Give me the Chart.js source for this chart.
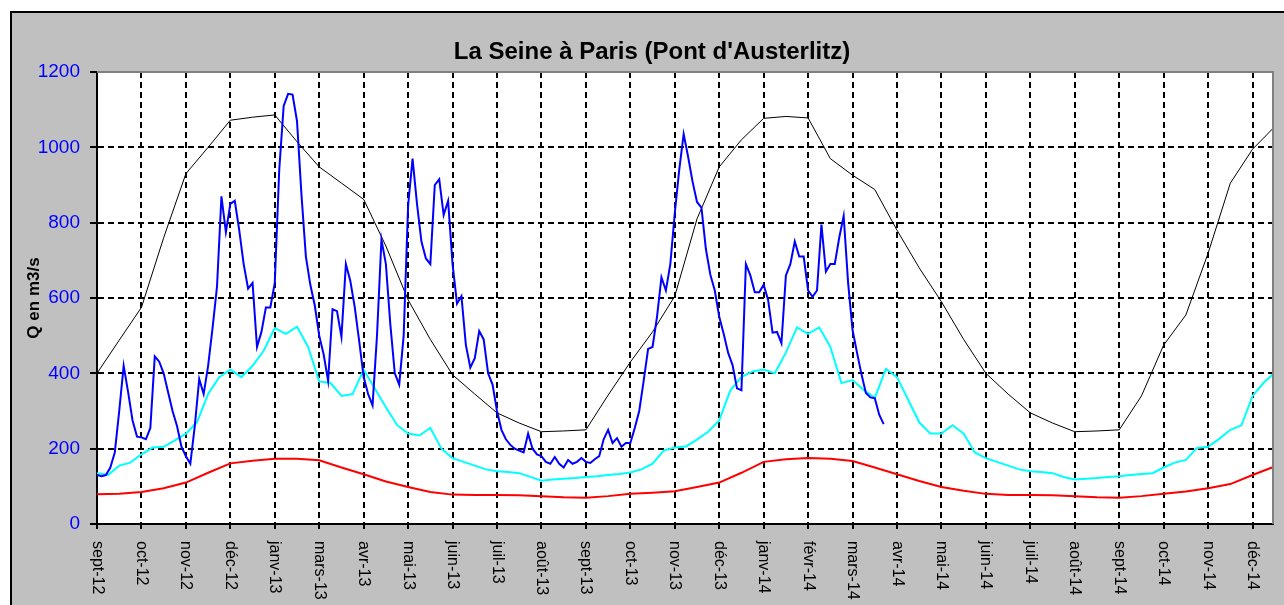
<!DOCTYPE html>
<html>
<head>
<meta charset="utf-8">
<script src="https://cdn.jsdelivr.net/npm/chart.js@4"></script>
<style>
html, body { margin: 0; padding: 0; background: #fff; overflow: hidden; }
#frame { position: absolute; left: 10px; top: 11px; width: 1300px; height: 620px; background: #c0c0c0; border-left: 2px solid #000; border-top: 2px solid #000; }
#wrap { position: absolute; left: 0; top: 0; width: 1284px; height: 605px; }
</style>
</head>
<body>
<div id="frame"></div>
<div id="wrap"><canvas id="chart" width="1284" height="605"></canvas></div>
<script>
// month ticks, one every step of 1 on the x axis
var tickLabels = ['sept-12', 'oct-12', 'nov-12', 'déc-12', 'janv-13', 'mars-13', 'avr-13', 'mai-13', 'juin-13',
    'juil-13', 'août-13', 'sept-13', 'oct-13', 'nov-13', 'déc-13', 'janv-14', 'févr-14', 'mars-14', 'avr-14',
    'mai-14', 'juin-14', 'juil-14', 'août-14', 'sept-14', 'oct-14', 'nov-14', 'déc-14'];

// observed flow (blue), one value every 0.1 tick
var debitStep = 0.1;
var debit = [130, 127, 130, 150, 190, 300, 420, 350, 275, 232,
    230, 225, 255, 445, 431, 400, 350, 300, 260, 205,
    180, 160, 260, 385, 345, 420, 520, 630, 870, 775,
    850, 858, 780, 690, 625, 640, 470, 510, 575, 575,
    640, 940, 1110, 1142, 1140, 1070, 875, 710, 635, 580,
    500, 450, 380, 570, 565, 497, 690, 645, 575, 485,
    390, 345, 315, 500, 755, 690, 530, 400, 370, 500,
    845, 970, 850, 750, 705, 690, 900, 915, 820, 858,
    690, 585, 605, 475, 415, 440, 512, 490, 400, 370,
    300, 250, 225, 210, 200, 195, 190, 240, 200, 185,
    180, 165, 160, 178, 160, 150, 170, 160, 165, 175,
    165, 162, 172, 180, 225, 250, 215, 228, 205, 215,
    215, 255, 300, 380, 465, 470, 550, 655, 620, 690,
    825, 940, 1035, 975, 909, 855, 840, 730, 662, 620,
    550, 505, 455, 422, 360, 355, 690, 660, 615, 615,
    635, 595, 508, 510, 480, 660, 690, 750, 710, 710,
    620, 603, 620, 795, 670, 690, 690, 760, 818, 640,
    515, 455, 398, 348, 336, 334, 290, 265];

// mean flow (cyan), every 0.25 tick
var moyenneStep = 0.25;
var moyenne = [135, 130, 155, 163, 185, 203, 205, 222, 240, 270,
    345, 390, 410, 390, 420, 460, 520, 505, 524, 470,
    378, 375, 340, 345, 410, 360, 310, 263, 240, 235,
    255, 200, 175, 165, 155, 145, 140, 138, 135, 125,
    115, 118, 120, 122, 125, 127, 130, 133, 137, 145,
    160, 195, 203, 206, 224, 245, 275, 355, 390, 405,
    410, 400, 455, 522, 505, 522, 470, 374, 382, 356,
    335, 412, 390, 330, 270, 240, 240, 262, 240, 190,
    175, 165, 155, 145, 140, 138, 135, 125, 118, 120,
    122, 125, 127, 130, 133, 135, 150, 163, 170, 202,
    205, 226, 250, 262, 340, 375, 402];

// high and low reference flows (black, red), every 0.5 tick
var refStep = 0.5;
var haut = [400, 488, 575, 760, 930, 1000, 1072, 1080, 1086, 1015,
    948, 905, 862, 738, 595, 490, 396, 345, 295, 268,
    245, 247, 250, 342, 430, 510, 605, 810, 948, 1020,
    1077, 1082, 1078, 970, 926, 888, 780, 680, 590, 490,
    400, 345, 295, 268, 245, 247, 250, 340, 475, 555,
    719, 905, 995, 1055];
var bas = [79, 80, 85, 95, 110, 136, 161, 168, 173, 173,
    169, 150, 132, 113, 98, 85, 78, 77, 77, 76,
    74, 71, 70, 74, 80, 83, 87, 98, 110, 136,
    165, 172, 175, 173, 167, 150, 132, 114, 98, 88,
    80, 77, 77, 76, 74, 71, 70, 74, 80, 86,
    95, 106, 130, 153];

var yTicks = [0, 200, 400, 600, 800, 1000, 1200];

function toPoints(values, step) {
    return values.map(function(v, i) { return { x: i * step, y: v }; });
}

function line(values, step, color, width) {
    return {
        data: toPoints(values, step),
        borderColor: color,
        borderWidth: width,
        pointRadius: 0,
        tension: 0,
        fill: false
    };
}

var plotFrame = {
    id: 'plotFrame',
    beforeDraw: function(chart) {
        var a = chart.chartArea;
        var ctx = chart.ctx;
        ctx.save();
        ctx.fillStyle = '#ffffff';
        ctx.fillRect(a.left, a.top, a.right - a.left, a.bottom - a.top);
        ctx.restore();
    },
    afterDraw: function(chart) {
        var a = chart.chartArea;
        var ctx = chart.ctx;
        var xs = chart.scales.x;
        ctx.save();
        // grey top and right edges of the plot area
        ctx.strokeStyle = '#808080';
        ctx.lineWidth = 2;
        ctx.beginPath();
        ctx.moveTo(a.left, a.top);
        ctx.lineTo(a.right, a.top);
        ctx.lineTo(a.right, a.bottom);
        ctx.stroke();
        // month labels, rotated to read downwards
        ctx.fillStyle = '#000';
        ctx.font = '16px "Liberation Sans", Arial, sans-serif';
        ctx.textAlign = 'left';
        ctx.textBaseline = 'middle';
        tickLabels.forEach(function(label, i) {
            ctx.save();
            ctx.translate(xs.getPixelForValue(i), a.bottom + 17);
            ctx.rotate(Math.PI / 2);
            ctx.fillText(label, 0, 0);
            ctx.restore();
        });
        ctx.restore();
    }
};

Chart.defaults.font.family = '"Liberation Sans", Arial, sans-serif';

new Chart(document.getElementById('chart'), {
    type: 'line',
    data: {
        datasets: [
            line(debit, debitStep, '#0000ff', 2),
            line(haut, refStep, '#000000', 1),
            line(moyenne, moyenneStep, '#00ffff', 2),
            line(bas, refStep, '#ff0000', 2)
        ]
    },
    options: {
        responsive: false,
        animation: false,
        layout: { padding: { left: 31, right: 11, top: 12, bottom: 0 } },
        plugins: {
            legend: { display: false },
            tooltip: { enabled: false },
            title: {
                display: true,
                text: "La Seine à Paris (Pont d'Austerlitz)",
                color: '#000',
                font: { size: 24, weight: 'bold' },
                padding: { top: 25.6, bottom: 5.6 }
            }
        },
        scales: {
            x: {
                type: 'linear',
                min: 0,
                max: 26.46,
                afterBuildTicks: function(scale) {
                    scale.ticks = tickLabels.map(function(l, i) { return { value: i }; });
                },
                afterFit: function(scale) { scale.height = 81; },
                ticks: { display: false },
                grid: { color: '#000', lineWidth: 2, tickLength: 5, tickColor: '#000', tickWidth: 2, tickBorderDash: [] },
                border: { color: '#000', width: 2, dash: [6, 4] }
            },
            y: {
                min: 0,
                max: 1200,
                afterBuildTicks: function(scale) {
                    scale.ticks = yTicks.map(function(v) { return { value: v }; });
                },
                afterFit: function(scale) { scale.width = 66; },
                ticks: {
                    color: '#0000ff',
                    font: { size: 19 },
                    padding: 10,
                    callback: function(value) { return String(value); }
                },
                grid: { color: '#000', lineWidth: 2, tickLength: 7, tickColor: '#000', tickWidth: 2, tickBorderDash: [] },
                border: { color: '#000', width: 2, dash: [6, 4] },
                title: {
                    display: true,
                    text: 'Q en m3/s',
                    color: '#000',
                    font: { size: 17, weight: 'bold' },
                    padding: { top: -7, bottom: 0 }
                }
            }
        }
    },
    plugins: [plotFrame]
});
</script>
</body>
</html>
